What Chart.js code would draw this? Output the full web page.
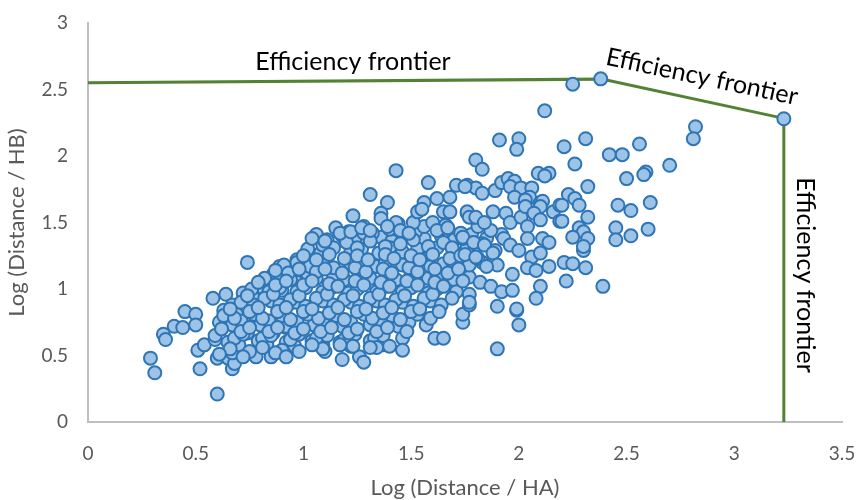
<!DOCTYPE html>
<html>
<head>
<meta charset="utf-8">
<script src="https://cdn.jsdelivr.net/npm/chart.js@4.4.1/dist/chart.umd.min.js"></script>
<style>
  html, body { margin: 0; padding: 0; background: #fff; }
  #wrap { width: 857px; height: 500px; }
</style>
</head>
<body>
<div id="wrap"><canvas id="chart" width="857" height="500"></canvas></div>
<script>
// Frontier (Log Distance/HA, Log Distance/HB)
const frontierX = [0, 2.385, 3.23, 3.23];
const frontierY = [2.55, 2.578, 2.283, 0];

// Tick values
const xTicks = [0, 0.5, 1, 1.5, 2, 2.5, 3, 3.5];
const yTicks = [0, 0.5, 1, 1.5, 2, 2.5, 3];

// Scatter points [x, y]
const leftTail = [
  [0.29,0.48],[0.31,0.37],[0.35,0.66],[0.36,0.62],[0.40,0.72],[0.44,0.71],[0.45,0.83],[0.50,0.81],
  [0.50,0.73],[0.51,0.54],[0.52,0.40],[0.54,0.58],[0.58,0.93],[0.59,0.62],[0.60,0.21],[0.60,0.48],
  [0.65,0.48],[0.67,0.40],[0.68,0.44],[0.74,1.20],[0.64,0.96],[0.63,0.84],[0.64,0.75],[0.67,0.88],
  [0.69,0.81],[0.70,0.66],[0.67,0.52],[0.72,0.97],[0.74,0.67],[0.76,0.77],[0.77,0.93],[0.78,0.49],
  [0.85,0.49],[0.83,0.60],[0.81,1.01],[0.86,1.11],[0.89,1.17],[0.92,1.09],[0.90,0.99],[0.85,0.76],
  [0.86,0.67],[0.92,0.71],[0.95,0.90],[0.97,1.05],[0.97,1.22],[1.00,1.23]
];
const lowerEdge = [
  [1.90,0.55],[1.61,0.63],[1.65,0.63],[1.74,0.75],[1.74,0.81],[2.00,0.73],[1.99,0.84],[1.18,0.47],
  [1.26,0.49],[1.28,0.45],[1.46,0.54],[1.40,0.57],[1.31,0.56],[1.23,0.57],[1.17,0.58],[0.98,0.53],
  [0.92,0.49],[1.09,0.55],[1.04,0.58],[1.77,0.88],[1.77,0.96],[1.77,0.90],[1.90,0.87],[1.99,0.85]
];
const upperBand = [
  [1.31,1.71],[1.39,1.65],[1.43,1.89],[1.58,1.80],[1.23,1.55],[1.36,1.57],[1.36,1.53],[1.43,1.50],
  [1.51,1.50],[1.56,1.65],[1.62,1.68],[1.65,1.58],[1.68,1.58],[1.68,1.69],[1.71,1.78],[1.76,1.78],
  [1.80,1.76],[1.76,1.57],[1.79,1.54],[1.04,1.38],[1.10,1.36],[1.17,1.42],[1.22,1.43],[1.27,1.46],
  [1.31,1.44],[1.39,1.47],[1.45,1.44],[1.49,1.42],[1.53,1.58],[1.55,1.60],[1.60,1.50],[1.62,1.44],
  [1.67,1.46],[1.74,1.38],[1.79,1.35],[1.80,1.97],[1.83,1.90],[1.75,1.77],[1.83,1.72],[1.89,1.74],
  [1.92,1.80],[1.95,1.83],[1.98,1.81],[1.96,1.77],[2.01,1.76],[2.06,1.76],[2.05,1.69],[1.98,1.69],
  [2.03,1.67],[2.10,1.65],[2.11,1.66]
];
const rightCluster = [
  [1.76,1.58],[1.77,1.54],[1.80,1.54],[1.84,1.50],[1.88,1.58],[1.94,1.57],[1.96,1.50],[2.01,1.54],
  [2.03,1.62],[2.04,1.47],[2.10,1.62],[2.07,1.57],[2.16,1.58],[2.19,1.51],[2.10,1.52],[2.19,1.63],
  [1.74,1.39],[1.79,1.35],[1.84,1.33],[1.75,1.26],[1.80,1.24],[1.88,1.27],[1.90,1.18],[1.85,1.17],
  [1.93,1.38],[1.96,1.33],[2.00,1.29],[2.04,1.38],[2.06,1.24],[2.10,1.27],[2.11,1.38],[2.14,1.35],
  [2.04,1.16],[2.08,1.14],[2.14,1.17],[2.21,1.20],[2.25,1.19],[2.31,1.16],[1.97,1.11],[1.82,1.05],
  [1.87,1.02],[1.92,0.98],[1.97,0.99],[2.10,1.02],[2.08,0.93],[2.22,1.06],[2.39,1.02],[2.30,1.29]
];
const topOutliers = [
  [1.91,2.12],[2.00,2.13],[1.99,2.05],[2.12,2.34],[2.25,2.54],[2.38,2.58],[3.23,2.28],[2.21,2.07],
  [2.31,2.13],[2.26,1.94],[2.32,1.77],[2.09,1.87],[2.14,1.87],[2.12,1.85],[2.23,1.71],[2.26,1.68],
  [2.28,1.63],[2.82,2.22],[2.81,2.13],[2.42,2.01],[2.48,2.01],[2.56,2.09],[2.70,1.93],[2.50,1.83],
  [2.59,1.88],[2.58,1.86],[2.20,1.63],[2.46,1.63],[2.52,1.59],[2.61,1.65],[2.32,1.54],[2.20,1.51],
  [2.28,1.46],[2.30,1.43],[2.45,1.46],[2.45,1.37],[2.52,1.40],[2.60,1.45],[2.25,1.39],[2.32,1.38],
  [2.30,1.32]
];
// the crowded middle of the cloud, listed band by band (not in height order)
const denseCore = [
  [0.82,1.08],[0.89,1.10],[0.94,1.07],[1.02,1.11],[1.06,1.08],[1.14,1.10],[1.19,1.07],[1.27,1.11],[1.31,1.08],[1.39,1.10],[1.43,1.07],[1.50,1.11],[1.58,1.08],[1.62,1.10],[1.70,1.07],[1.77,1.09],
  [0.61,0.75],[0.67,0.73],[0.71,0.76],[0.80,0.73],[0.84,0.76],[0.92,0.72],[0.97,0.75],[1.05,0.73],[1.09,0.76],[1.18,0.72],[1.22,0.75],[1.31,0.73],[1.36,0.76],[1.44,0.72],[1.49,0.75],[1.57,0.73],
  [1.06,1.41],[1.11,1.37],[1.18,1.40],[1.24,1.38],[1.28,1.42],[1.36,1.39],[1.41,1.36],[1.48,1.40],[1.56,1.38],[1.64,1.40],[1.70,1.37],[1.78,1.41],[1.85,1.38],[1.92,1.41],
  [0.71,0.90],[0.77,0.88],[0.85,0.91],[0.89,0.88],[0.97,0.90],[1.01,0.87],[1.09,0.91],[1.14,0.88],[1.22,0.90],[1.26,0.87],[1.34,0.91],[1.38,0.88],[1.46,0.90],[1.51,0.87],[1.59,0.91],[1.64,0.88],
  [0.91,1.18],[0.97,1.20],[1.03,1.17],[1.09,1.20],[1.14,1.16],[1.22,1.19],[1.26,1.21],[1.34,1.17],[1.38,1.20],[1.46,1.18],[1.51,1.21],[1.59,1.17],[1.65,1.19],[1.69,1.21],[1.77,1.18],[1.83,1.20],
  [0.65,0.60],[0.70,0.58],[0.79,0.61],[0.83,0.58],[0.92,0.60],[0.96,0.57],[1.04,0.61],[1.09,0.58],[1.17,0.60],[1.22,0.57],[1.31,0.61],[1.37,0.58],
  [1.02,1.30],[1.08,1.27],[1.14,1.31],[1.22,1.28],[1.27,1.30],[1.35,1.27],[1.40,1.31],[1.46,1.28],[1.53,1.30],[1.59,1.27],[1.62,1.31],[1.70,1.28],[1.76,1.31],[1.89,1.29],
  [0.76,1.00],[0.84,0.98],[0.89,1.01],[0.97,0.98],[1.01,1.01],[1.09,0.98],[1.13,1.01],[1.21,0.97],[1.25,1.00],[1.34,0.98],[1.38,1.02],[1.46,0.98],[1.50,1.01],[1.58,0.97],[1.62,1.00],[1.71,0.98],
  [0.63,0.80],[0.68,0.78],[0.77,0.81],[0.81,0.78],[0.90,0.80],[0.94,0.77],[1.02,0.81],[1.07,0.78],[1.15,0.80],[1.19,0.77],[1.28,0.81],[1.32,0.78],[1.41,0.80],[1.45,0.77],[1.53,0.81],[1.59,0.78],
  [1.15,1.46],[1.21,1.43],[1.28,1.47],[1.32,1.42],[1.40,1.45],[1.44,1.49],[1.52,1.43],[1.56,1.47],[1.63,1.44],[1.66,1.48],[1.73,1.42],[1.81,1.47],[1.87,1.44],
  [0.59,0.65],[0.68,0.63],[0.72,0.66],[0.81,0.63],[0.85,0.65],[0.94,0.62],[0.98,0.66],[1.06,0.63],[1.11,0.65],[1.19,0.62],[1.24,0.66],[1.33,0.63],[1.37,0.65],[1.46,0.63],
  [0.87,1.14],[0.93,1.12],[0.98,1.15],[1.06,1.13],[1.10,1.15],[1.18,1.12],[1.24,1.16],[1.29,1.13],[1.37,1.15],[1.41,1.12],[1.49,1.16],[1.53,1.13],[1.61,1.15],[1.67,1.12],[1.72,1.15],
  [0.74,0.95],[0.82,0.93],[0.86,0.96],[0.94,0.92],[0.98,0.95],[1.06,0.93],[1.11,0.96],[1.19,0.92],[1.23,0.95],[1.31,0.93],[1.35,0.96],[1.43,0.92],[1.47,0.95],[1.56,0.93],[1.60,0.96],[1.69,0.93],
  [1.09,1.33],[1.20,1.35],[1.25,1.31],[1.31,1.36],[1.38,1.32],[1.45,1.34],[1.51,1.37],[1.58,1.32],[1.65,1.35],[1.69,1.31],[1.83,1.34],
  [0.66,0.55],[0.75,0.53],[0.81,0.56],[0.90,0.54],[1.10,0.53],[1.34,0.56],
  [0.79,1.05],[0.87,1.03],[0.92,1.06],[1.00,1.03],[1.04,1.06],[1.12,1.04],[1.16,1.02],[1.24,1.06],[1.28,1.03],[1.36,1.05],[1.40,1.02],[1.48,1.06],[1.53,1.03],[1.61,1.05],[1.65,1.02],[1.74,1.06],
  [0.66,0.85],[0.75,0.83],[0.79,0.86],[0.88,0.83],[0.92,0.86],[1.00,0.83],[1.04,0.85],[1.12,0.82],[1.16,0.86],[1.25,0.83],[1.29,0.85],[1.37,0.82],[1.41,0.86],[1.50,0.83],[1.54,0.85],[1.63,0.83],
  [1.00,1.25],[1.06,1.22],[1.12,1.26],[1.19,1.23],[1.25,1.25],[1.30,1.22],[1.38,1.26],[1.42,1.23],[1.50,1.25],[1.54,1.22],[1.60,1.26],[1.68,1.23],[1.73,1.25],[1.81,1.23],
  [0.62,0.70],[0.71,0.68],[0.75,0.71],[0.84,0.68],[0.88,0.71],[0.96,0.67],[1.00,0.70],[1.08,0.68],[1.13,0.71],[1.21,0.67],[1.25,0.70],[1.34,0.68],[1.39,0.71],[1.48,0.68],
  [0.61,0.51],[0.72,0.49],[0.87,0.52]
];

// Text labels for the frontier: [x, y, rotation in degrees]
const frontierLabel = "Efficiency frontier";
const labelSpots = [[1.23, 2.705, 0], [2.85, 2.595, 12], [3.33, 1.105, 90]];

const allPoints = [...leftTail, ...denseCore, ...lowerEdge, ...upperBand, ...rightCluster, ...topOutliers]
  .map(p => ({ x: p[0], y: p[1] }));
const frontierPoints = frontierX.map((x, i) => ({ x: x, y: frontierY[i] }));

const FONT = "Lato, 'Liberation Sans', sans-serif";
const GREY = "#595959";

// draws the three "Efficiency frontier" labels at data positions
const labelPlugin = {
  id: "frontierLabels",
  afterDatasetsDraw(chart) {
    const ctx = chart.ctx;
    const xs = chart.scales.x, ys = chart.scales.y;
    ctx.save();
    ctx.fillStyle = "#000";
    ctx.font = "25px " + FONT;
    ctx.textAlign = "center";
    ctx.textBaseline = "middle";
    labelSpots.forEach(s => {
      ctx.save();
      ctx.translate(xs.getPixelForValue(s[0]), ys.getPixelForValue(s[1]));
      ctx.rotate(s[2] * Math.PI / 180);
      ctx.fillText(frontierLabel, 0, 0);
      ctx.restore();
    });
    ctx.restore();
  }
};

new Chart(document.getElementById("chart"), {
  type: "scatter",
  data: {
    datasets: [
      {
        label: "Hospitals",
        data: allPoints,
        pointRadius: 6.5,
        pointBackgroundColor: "#9DC3E6",
        pointBorderColor: "#2E75B6",
        pointBorderWidth: 2,
        order: 0
      },
      {
        label: "Efficiency frontier",
        data: frontierPoints,
        showLine: true,
        borderColor: "#548235",
        borderWidth: 3,
        pointRadius: 0,
        order: 1
      }
    ]
  },
  options: {
    responsive: false,
    animation: false,
    layout: { padding: { top: 23, right: 15, left: 0, bottom: 0 } },
    plugins: { legend: { display: false }, tooltip: { enabled: false } },
    scales: {
      x: {
        type: "linear",
        min: 0, max: 3.5,
        afterBuildTicks: s => { s.ticks = xTicks.map(v => ({ value: v })); },
        afterFit: s => { s.height = 78; s.paddingLeft = 0; s.paddingRight = 0; },
        grid: { display: false, drawTicks: false },
        border: { color: "#BFBFBF", width: 2 },
        ticks: { color: GREY, font: { family: FONT, size: 19 }, padding: 20, callback: v => String(v) },
        title: { display: true, text: "Log (Distance / HA)", color: GREY, font: { family: FONT, size: 22 }, padding: { top: 4, bottom: -1 } }
      },
      y: {
        type: "linear",
        min: 0, max: 3,
        afterBuildTicks: s => { s.ticks = yTicks.map(v => ({ value: v })); },
        afterFit: s => { s.width = 88; s.paddingTop = 0; s.paddingBottom = 0; },
        grid: { display: false, drawTicks: false },
        border: { color: "#BFBFBF", width: 2 },
        ticks: { color: GREY, font: { family: FONT, size: 19 }, padding: 20, callback: v => String(v) },
        title: { display: true, text: "Log (Distance / HB)", color: GREY, font: { family: FONT, size: 22 }, padding: { bottom: 4 } }
      }
    }
  },
  plugins: [labelPlugin]
});
</script>
</body>
</html>
